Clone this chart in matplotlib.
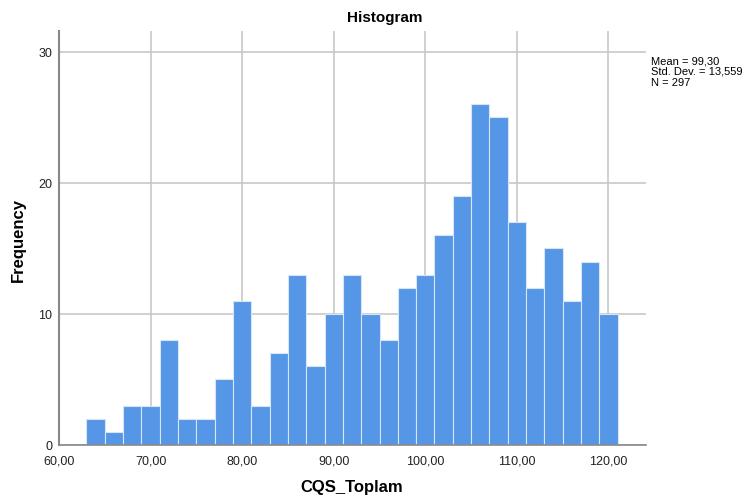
import matplotlib
matplotlib.use("Agg")
import matplotlib.pyplot as plt
import numpy as np

plt.rcParams['font.family'] = ['Liberation Sans', 'DejaVu Sans']

bin_edges = np.arange(63, 123, 2)
counts = [2, 1, 3, 3, 8, 2, 2, 5, 11, 3, 7, 13, 6, 10, 13, 10, 8, 12, 13, 16,
          19, 26, 25, 17, 12, 15, 11, 14, 10]
x_ticks = [60, 70, 80, 90, 100, 110, 120]
x_tick_labels = ["60,00", "70,00", "80,00", "90,00", "100,00", "110,00", "120,00"]
y_ticks = [0, 10, 20, 30]
stats_text = "Mean = 99,30\nStd. Dev. = 13,559\nN = 297"

fig = plt.figure(figsize=(7.44, 5.02), dpi=100)
ax = fig.add_axes([59/744, 1 - 446/502, (646-59)/744, (446-32)/502])

ax.bar(bin_edges[:-1], counts, width=np.diff(bin_edges), align='edge',
       color='#5596E6', edgecolor='#D6E6F8', linewidth=0.8, zorder=2)

ax.set_xlim(60, 124.1)
ax.set_ylim(0, 31.6)
ax.set_xticks(x_ticks)
ax.set_xticklabels(x_tick_labels)
ax.set_yticks(y_ticks)
ax.tick_params(length=0, labelsize=9, colors='#222222')
ax.tick_params(axis='x', pad=7)
ax.tick_params(axis='y', pad=5)
ax.grid(True, color='#C8C8C8', linewidth=1.2, zorder=0)
ax.set_axisbelow(True)
for s in ['top', 'right']:
    ax.spines[s].set_visible(False)
ax.spines['left'].set_color('#888888')
ax.spines['left'].set_linewidth(1.5)
ax.spines['bottom'].set_color('#888888')
ax.spines['bottom'].set_linewidth(1.2)

fig.text(385/744, 1 - 18/502, "Histogram", ha='center', va='center',
         fontsize=11, fontweight='bold')
fig.text(352/744, 1 - 488/502, "CQS_Toplam", ha='center', va='center',
         fontsize=12, fontweight='bold')
fig.text(18/744, 1 - 240/502, "Frequency", ha='center', va='center',
         fontsize=12, fontweight='bold', rotation=90)
fig.text(651/744, 1 - 56/502, stats_text, ha='left', va='top',
         fontsize=8, linespacing=1.1)

fig.savefig("out.png", dpi=100)
